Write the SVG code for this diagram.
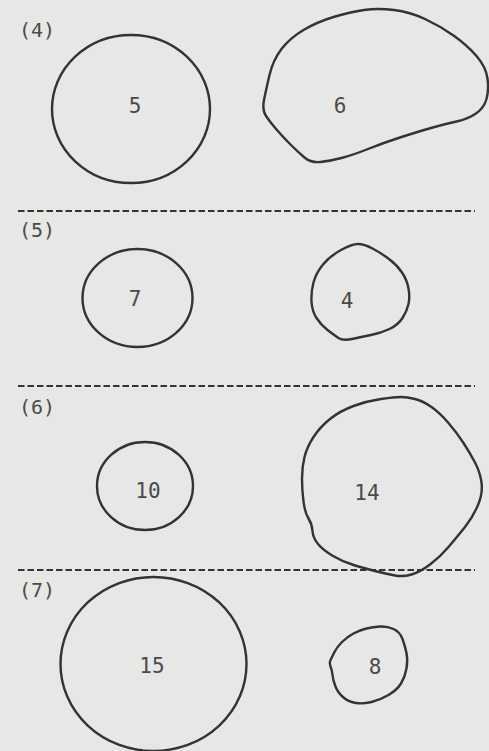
<svg xmlns="http://www.w3.org/2000/svg" width="489" height="751" viewBox="0 0 489 751">
<style>
.shape{fill:none;stroke:#333;stroke-width:2.4;stroke-linejoin:round}
.num{font-family:"DejaVu Sans Mono","Liberation Mono",monospace;font-size:21px;fill:#4a4a4a;text-anchor:middle}
.lbl{font-family:"DejaVu Sans Mono","Liberation Mono",monospace;font-size:20px;fill:#4a4a4a}
.sep{stroke:#333;stroke-width:2;stroke-dasharray:6.5 3}
</style>
<rect width="489" height="751" fill="#e7e7e5"/>
<g id="separators">
<line class="sep" x1="18" y1="211" x2="475" y2="211"/>
<line class="sep" x1="18" y1="386" x2="475" y2="386"/>
<line class="sep" x1="18" y1="570" x2="475" y2="570"/>
</g>
<g id="section4">
<text class="lbl" x="19" y="37">(4)</text>
<g id="n5"><ellipse class="shape" cx="131" cy="109" rx="79" ry="74"/><text class="num" x="135" y="113">5</text></g>
<g id="n6"><path class="shape" d="M264,100 Q266,90 269.5,75 Q273,60 281.5,49 Q290,38 303.5,30 Q317,22 333.5,17 Q350,12 364,10 Q378,8 394,10 Q410,12 425,19 Q440,26 453.5,35.5 Q467,45 476.5,56 Q486,67 487.5,78.5 Q489,90 486.5,99 Q484,108 476,113.5 Q468,119 456.5,121.5 Q445,124 431,128 Q417,132 400,137.5 Q383,143 368,149 Q353,155 341.5,158 Q330,161 320.5,162 Q311,163 304.5,157.5 Q298,152 290.5,144.5 Q283,137 276.5,129.5 Q270,122 266,116 Q262,110 264,100 Z"/><text class="num" x="340" y="113">6</text></g>
</g>
<g id="section5">
<text class="lbl" x="19" y="237">(5)</text>
<g id="n7"><ellipse class="shape" cx="137.5" cy="298" rx="55" ry="49"/><text class="num" x="135" y="306">7</text></g>
<g id="n4"><path class="shape" d="M341,250 Q330,256 323,264.5 Q316,273 313.5,282.5 Q311,292 311.5,301.5 Q312,311 316.5,318 Q321,325 327.5,330 Q334,335 338.5,338 Q343,341 352,339 Q361,337 371,335 Q381,333 389.5,329 Q398,325 402.5,318 Q407,311 408.5,304 Q410,297 408.5,288.5 Q407,280 402,272.5 Q397,265 389,259 Q381,253 372.5,248.5 Q364,244 358,244 Q352,244 341,250 Z"/><text class="num" x="347" y="308">4</text></g>
</g>
<g id="section6">
<text class="lbl" x="19" y="414">(6)</text>
<g id="n10"><ellipse class="shape" cx="145" cy="486" rx="48" ry="44"/><text class="num" x="148" y="498">10</text></g>
<g id="n14"><path class="shape" d="M381,399 Q367,401 353.5,406 Q340,411 330,419 Q320,427 313.5,437 Q307,447 304.5,457 Q302,467 302,478.5 Q302,490 303.5,501.5 Q305,513 308.5,518.5 Q312,524 312.5,531 Q313,538 318,544 Q323,550 333,556 Q343,562 355,565.5 Q367,569 377,571.5 Q387,574 395,575.5 Q403,577 411.5,574.5 Q420,572 430,564.5 Q440,557 448.5,547 Q457,537 465,527 Q473,517 478,505 Q483,493 481.5,482.5 Q480,472 475,462.5 Q470,453 463.5,443 Q457,433 448.5,423 Q440,413 431.5,407 Q423,401 415,399 Q407,397 401,397 Q395,397 381,399 Z"/><text class="num" x="367" y="500">14</text></g>
</g>
<g id="section7">
<text class="lbl" x="19" y="597">(7)</text>
<g id="n15"><ellipse class="shape" cx="153.5" cy="664" rx="93" ry="87"/><text class="num" x="152" y="673">15</text></g>
<g id="n8"><path class="shape" d="M393.5,629 Q400,632 402.5,639 Q405,646 406.5,653 Q408,660 406.5,668.5 Q405,677 401,683.5 Q397,690 388.5,695 Q380,700 371.5,702 Q363,704 356,703 Q349,702 343.5,697.5 Q338,693 335.5,686.5 Q333,680 332.5,675 Q332,670 330.5,666.5 Q329,663 330.5,660 Q332,657 334.5,652 Q337,647 342,642 Q347,637 353.5,633.5 Q360,630 366.5,628.5 Q373,627 380,626.5 Q387,626 393.5,629 Z"/><text class="num" x="375" y="674">8</text></g>
</g>
</svg>
